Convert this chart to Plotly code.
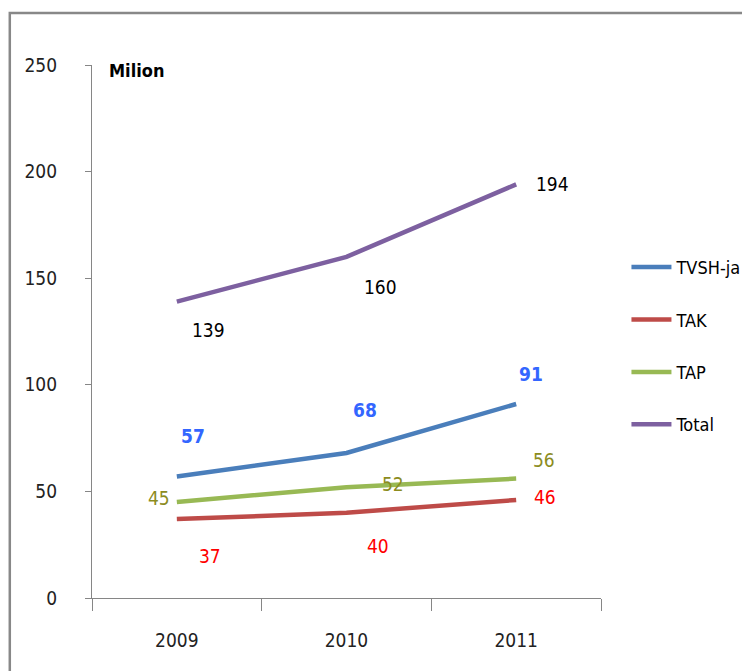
import plotly.graph_objects as go

years = ["2009", "2010", "2011"]
tvsh = [57, 68, 91]
tak = [37, 40, 46]
tap = [45, 52, 56]
total = [139, 160, 194]

series = [
    ("TVSH-ja", tvsh, "#4A7EBB", "#3366FF", True, [(16, 40), (18, 43), (15, 30)]),
    ("TAK", tak, "#BE4B48", "#FF0000", False, [(33, -37), (31, -33), (29, 3)]),
    ("TAP", tap, "#98B954", "#8C8C1E", False, [(-18, 4), (46, 3), (28, 19)]),
    ("Total", total, "#7D60A0", "#000000", False, [(32, -28), (34, -30), (36, 0)]),
]

FONT = "DejaVu Sans Condensed, Liberation Sans Narrow, sans-serif"

fig = go.Figure()
annotations = []
for name, vals, lc, tc, bold, offs in series:
    fig.add_trace(go.Scatter(
        x=years, y=vals, name=name, mode="lines",
        line=dict(color=lc, width=4.5),
        legendgroup=name,
    ))
    for i, (yv, (dx, dy)) in enumerate(zip(vals, offs)):
        txt = f"<b>{yv}</b>" if bold else str(yv)
        annotations.append(dict(
            x=i, y=yv, xref="x", yref="y", text=txt, showarrow=False,
            xshift=dx, yshift=dy,
            font=dict(family=FONT, size=19, color=tc),
        ))

annotations.append(dict(
    x=0.03, y=0.99, xref="paper", yref="paper", text="<b>Milion</b>",
    showarrow=False, xanchor="left", yanchor="middle",
    font=dict(family=FONT, size=18, color="#000000"),
))

fig.update_layout(
    width=750, height=671,
    margin=dict(l=84, r=152, t=57, b=81),
    paper_bgcolor="white", plot_bgcolor="white",
    font=dict(family=FONT, size=18, color="#222222"),
    showlegend=True,
    legend=dict(
        x=1.05, y=0.655, xanchor="left", yanchor="top",
        traceorder="grouped", tracegroupgap=26,
        itemwidth=40,
        font=dict(family=FONT, size=18, color="#000000"),
    ),
    annotations=annotations,
    shapes=[dict(
        type="rect", xref="paper", yref="paper",
        x0=-0.1615, x1=1.32, y0=-0.17, y1=1.0976,
        line=dict(color="#888888", width=2.5), fillcolor="rgba(0,0,0,0)",
    )],
)
fig.update_xaxes(
    type="category", range=[-0.5, 2.5],
    showline=True, linecolor="#868686", linewidth=1.2,
    ticks="outside", ticklen=12, tickcolor="#868686", tickson="boundaries",
    ticklabelstandoff=25,
    showgrid=False, zeroline=False,
    tickfont=dict(family=FONT, size=19, color="#222222"),
)
fig.update_yaxes(
    range=[0, 250], dtick=50,
    showline=True, linecolor="#868686", linewidth=1.2,
    ticks="outside", ticklen=6, tickcolor="#868686",
    ticklabelstandoff=24,
    showgrid=False, zeroline=False,
    tickfont=dict(family=FONT, size=19, color="#222222"),
)

fig.write_html("out.html")
